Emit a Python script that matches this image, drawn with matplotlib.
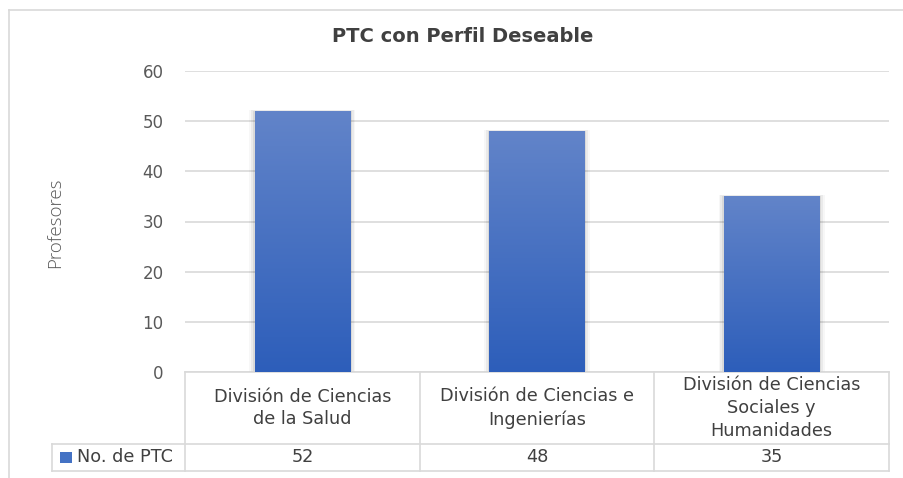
import numpy as np
import matplotlib
matplotlib.use("Agg")
import matplotlib.pyplot as plt
from matplotlib.colors import LinearSegmentedColormap
from matplotlib.lines import Line2D
from matplotlib.patches import Rectangle
import matplotlib.transforms as mtransforms

# data
categories = ["División de Ciencias\nde la Salud",
              "División de Ciencias e\nIngenierías",
              "División de Ciencias\nSociales y\nHumanidades"]
values = [52, 48, 35]
series_name = "No. de PTC"
yticks = [0, 10, 20, 30, 40, 50, 60]

W, H = 904, 478
fig = plt.figure(figsize=(W / 100, H / 100), dpi=100)
fig.patch.set_facecolor("white")

def fx(px):
    return px / W

def fy(py):
    return 1 - py / H

ax = fig.add_axes([fx(185), fy(372), fx(889) - fx(185), fy(71) - fy(372)])
ax.set_xlim(-0.5, len(categories) - 0.5)
ax.set_ylim(0, 60)
for s in ax.spines.values():
    s.set_visible(False)
ax.set_xticks([])
ax.set_yticks(yticks)
ax.set_yticklabels([str(t) for t in yticks], fontsize=12, color="#595959", family="DejaVu Sans")
ax.tick_params(axis="y", length=0, pad=15.5)
ax.yaxis.grid(True, color="#d9d9d9", linewidth=1.2)
ax.set_axisbelow(True)

# chart frame (cut off on the right/bottom)
grey = "#d9d9d9"
fig.add_artist(Line2D([fx(9), fx(9)], [fy(10), 0], color=grey, lw=1.2))
fig.add_artist(Line2D([fx(9), 1], [fy(10), fy(10)], color=grey, lw=1.2))

fig.text(fx(463), fy(37), "PTC con Perfil Deseable", ha="center", va="center",
         fontsize=14, fontweight="bold", color="#404040", family="DejaVu Sans")
fig.text(fx(55), fy(223), "Profesores", rotation=90, ha="center", va="center",
         fontsize=13.5, color="#595959", family="Open Sans", fontweight="light")

# bars with gradient + soft shadow
x = np.arange(len(categories))
bw = 0.405
cmap = LinearSegmentedColormap.from_list("g", ["#2d5eba", "#6284c9"])
grad = np.linspace(0, 1, 256).reshape(-1, 1)
for i, v in enumerate(values):
    for k, a in [(0.024, 0.03), (0.016, 0.05), (0.008, 0.07)]:
        ax.add_patch(Rectangle((x[i] - bw / 2 - k, 0), bw + 2 * k, v + k * 12,
                               facecolor="#000000", alpha=a, lw=0, zorder=2))
bars = ax.bar(x, values, width=bw, color="none", zorder=3)
for b in bars:
    im = ax.imshow(grad, cmap=cmap, origin="lower", aspect="auto",
                   extent=[b.get_x(), b.get_x() + b.get_width(), 0, b.get_height()],
                   zorder=3)
    im.set_clip_path(b)
ax.set_xlim(-0.5, len(categories) - 0.5)
ax.set_ylim(0, 60)

# data table below the axis
tr = mtransforms.blended_transform_factory(ax.transData, ax.transAxes)
row1 = (372 - 444) / 301.0
row2 = (372 - 471) / 301.0
left = -0.5 + (52 - 185) / 234.7
bounds = [-0.5 + i for i in range(len(categories) + 1)]
kw = dict(color=grey, lw=1.2, transform=tr, clip_on=False)
ax.plot([bounds[0], bounds[-1]], [0, 0], **kw)
ax.plot([left, bounds[-1]], [row1, row1], **kw)
ax.plot([left, bounds[-1]], [row2, row2], **kw)
ax.plot([left, left], [row1, row2], **kw)
for bx in bounds:
    ax.plot([bx, bx], [0, row2], **kw)

tfont = dict(fontsize=12.7, color="#404040", family="DejaVu Sans")
for i, c in enumerate(categories):
    ax.text(x[i], row1 / 2, c, ha="center", va="center", transform=tr,
            linespacing=1.35, **tfont)
    ax.text(x[i], (row1 + row2) / 2, str(values[i]), ha="center", va="center",
            transform=tr, **tfont)
ax.add_patch(Rectangle((left + 0.034, (row1 + row2) / 2 - 0.019), 0.052, 0.038,
                       facecolor="#4472c4", transform=tr, clip_on=False))
ax.text(left + 0.106, (row1 + row2) / 2, series_name, ha="left", va="center",
        transform=tr, **tfont)

fig.savefig("out.png", dpi=100)
